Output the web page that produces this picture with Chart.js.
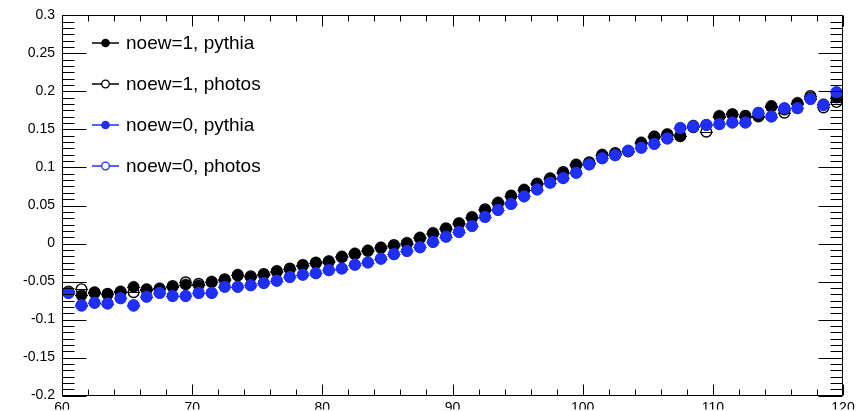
<!DOCTYPE html>
<html><head><meta charset="utf-8">
<script src="https://cdn.jsdelivr.net/npm/chart.js@4.4.1/dist/chart.umd.min.js"></script>
<style>html,body{margin:0;padding:0;background:#fff;}#wrap{width:863px;height:411px;}</style>
</head><body><div id="wrap"><canvas id="c" width="863" height="411"></canvas></div>
<script>
const binCenters = [60.5,61.5,62.5,63.5,64.5,65.5,66.5,67.5,68.5,69.5,
  70.5,71.5,72.5,73.5,74.5,75.5,76.5,77.5,78.5,79.5,
  80.5,81.5,82.5,83.5,84.5,85.5,86.5,87.5,88.5,89.5,
  90.5,91.5,92.5,93.5,94.5,95.5,96.5,97.5,98.5,99.5,
  100.5,101.5,102.5,103.5,104.5,105.5,106.5,107.5,108.5,109.5,
  110.5,111.5,112.5,113.5,114.5,115.5,116.5,117.5,118.5,119.5];

const noew1Pythia = [-0.065,-0.068,-0.064,-0.067,-0.063,-0.057,-0.060,-0.059,-0.057,-0.054,
  -0.055,-0.050,-0.048,-0.041,-0.044,-0.041,-0.036,-0.034,-0.028,-0.026,
  -0.023,-0.017,-0.013,-0.009,-0.005,-0.003,0.001,0.008,0.014,0.019,
  0.027,0.035,0.044,0.054,0.062,0.071,0.078,0.086,0.093,0.104,
  0.106,0.117,0.118,0.122,0.133,0.141,0.144,0.142,0.155,0.156,
  0.168,0.170,0.167,0.168,0.181,0.176,0.185,0.192,0.183,0.192];

const noew1Photos = [-0.063,-0.060,-0.065,-0.066,-0.064,-0.064,-0.061,-0.060,-0.056,-0.051,
  -0.053,-0.051,-0.047,-0.042,-0.043,-0.040,-0.037,-0.033,-0.029,-0.025,
  -0.024,-0.018,-0.014,-0.010,-0.006,-0.002,0.000,0.007,0.013,0.020,
  0.026,0.034,0.045,0.053,0.063,0.070,0.079,0.085,0.094,0.103,
  0.107,0.116,0.119,0.121,0.132,0.140,0.143,0.141,0.153,0.147,
  0.167,0.170,0.168,0.167,0.180,0.172,0.184,0.194,0.179,0.186];

const noew0Pythia = [-0.065,-0.082,-0.078,-0.079,-0.072,-0.082,-0.070,-0.065,-0.069,-0.069,
  -0.065,-0.065,-0.057,-0.057,-0.055,-0.052,-0.049,-0.044,-0.041,-0.039,
  -0.035,-0.033,-0.028,-0.025,-0.020,-0.014,-0.010,-0.005,0.002,0.009,
  0.015,0.023,0.035,0.044,0.052,0.062,0.071,0.080,0.086,0.093,
  0.104,0.112,0.116,0.122,0.126,0.131,0.138,0.152,0.154,0.156,
  0.157,0.159,0.159,0.172,0.167,0.178,0.178,0.190,0.182,0.199];

const noew0Photos = [-0.065,-0.081,-0.078,-0.079,-0.072,-0.081,-0.070,-0.065,-0.069,-0.069,
  -0.065,-0.065,-0.057,-0.057,-0.055,-0.052,-0.049,-0.044,-0.041,-0.039,
  -0.035,-0.033,-0.028,-0.025,-0.020,-0.014,-0.010,-0.005,0.002,0.009,
  0.015,0.023,0.035,0.044,0.052,0.062,0.071,0.080,0.086,0.093,
  0.104,0.112,0.116,0.122,0.126,0.131,0.138,0.152,0.154,0.156,
  0.157,0.159,0.159,0.172,0.167,0.178,0.178,0.190,0.182,0.199];

const seriesLabels = ['noew=1, pythia','noew=1, photos','noew=0, pythia','noew=0, photos'];
const xTickLabels = ['60','70','80','90','100','110','120'];
const yTickLabels = ['-0.2','-0.15','-0.1','-0.05','0','0.05','0.1','0.15','0.2','0.25','0.3'];

const BLACK = '#000000';
const BLUE = '#1f2ff8';
const FONT = '"Liberation Sans", Arial, Helvetica, sans-serif';

function pts(arr){ return binCenters.map((x,i)=>({x:x, y:arr[i]})); }

const datasets = [
  {label: seriesLabels[0], data: pts(noew1Pythia), color: BLACK, filled: true, order: 3},
  {label: seriesLabels[1], data: pts(noew1Photos), color: BLACK, filled: false, order: 2},
  {label: seriesLabels[2], data: pts(noew0Pythia), color: BLUE, filled: true, order: 1},
  {label: seriesLabels[3], data: pts(noew0Photos), color: BLUE, filled: false, order: 0}
].map(d => ({
  label: d.label, data: d.data, order: d.order, filled: d.filled,
  showLine: false,
  borderColor: d.color,
  backgroundColor: d.filled ? d.color : 'rgba(0,0,0,0)',
  pointBackgroundColor: d.filled ? d.color : 'rgba(0,0,0,0)',
  pointBorderColor: d.color,
  pointRadius: d.filled ? 5.6 : 5.3,
  pointBorderWidth: d.filled ? 0.6 : 1.4,
  pointHoverRadius: 6
}));

const errorBars = {
  id: 'errorBars',
  beforeDatasetsDraw(chart){
    const {ctx, scales:{x, y}} = chart;
    ctx.save();
    ctx.lineWidth = 1;
    chart.data.datasets.slice().reverse().forEach(ds => {
      ctx.strokeStyle = ds.borderColor;
      ds.data.forEach(p => {
        const py = Math.round(y.getPixelForValue(p.y)) + 0.5;
        ctx.beginPath();
        ctx.moveTo(x.getPixelForValue(p.x - 0.5), py);
        ctx.lineTo(x.getPixelForValue(p.x + 0.5), py);
        ctx.stroke();
      });
    });
    ctx.restore();
  }
};

const rootFrame = {
  id: 'rootFrame',
  afterDraw(chart){
    const {ctx, chartArea:a, scales:{x, y}} = chart;
    ctx.save();
    ctx.strokeStyle = '#000';
    ctx.lineWidth = 1;
    const L = Math.round(a.left)+0.5, R = Math.round(a.right)-0.5, T = Math.round(a.top)+0.5, B = Math.round(a.bottom)-0.5;
    ctx.beginPath();
    ctx.rect(L, T, R-L, B-T);
    ctx.stroke();
    ctx.beginPath();
    const yMajor = yTickLabels.map(Number);
    for (let k = 0; k < yMajor.length; k++) {
      const v = yMajor[k];
      const py = Math.round(y.getPixelForValue(v)) + 0.5;
      ctx.moveTo(L, py); ctx.lineTo(L+24, py);
      ctx.moveTo(R, py); ctx.lineTo(R-24, py);
      if (k < yMajor.length-1) {
        const step = (yMajor[k+1]-v)/6;
        for (let m = 1; m < 6; m++) {
          const my = Math.round(y.getPixelForValue(v + m*step)) + 0.5;
          ctx.moveTo(L, my); ctx.lineTo(L+12, my);
          ctx.moveTo(R, my); ctx.lineTo(R-12, my);
        }
      }
    }
    const xMajor = xTickLabels.map(Number);
    for (let k = 0; k < xMajor.length; k++) {
      const v = xMajor[k];
      const px = Math.round(x.getPixelForValue(v)) + 0.5;
      ctx.moveTo(px, B); ctx.lineTo(px, B-11);
      ctx.moveTo(px, T); ctx.lineTo(px, T+11);
      if (k < xMajor.length-1) {
        const step = (xMajor[k+1]-v)/5;
        for (let m = 1; m < 5; m++) {
          const mx = Math.round(x.getPixelForValue(v + m*step)) + 0.5;
          ctx.moveTo(mx, B); ctx.lineTo(mx, B-6);
          ctx.moveTo(mx, T); ctx.lineTo(mx, T+6);
        }
      }
    }
    ctx.stroke();

    const rows = [43, 84, 125, 166];
    chart.data.datasets.forEach((ds, i) => {
      const ry = rows[i];
      ctx.strokeStyle = ds.borderColor;
      ctx.lineWidth = 1.5;
      ctx.beginPath(); ctx.moveTo(92, ry); ctx.lineTo(119, ry); ctx.stroke();
      ctx.beginPath(); ctx.arc(105.5, ry, ds.filled ? 4.3 : 3.8, 0, Math.PI*2);
      if (ds.filled) { ctx.fillStyle = ds.borderColor; ctx.fill(); }
      else { ctx.fillStyle = '#fff'; ctx.fill(); ctx.lineWidth = 1.3; ctx.stroke(); }
      ctx.fillStyle = '#000';
      ctx.font = '19px ' + FONT;
      ctx.textBaseline = 'middle';
      ctx.textAlign = 'left';
      ctx.fillText(ds.label, 126, ry + 1);
    });
    ctx.restore();
  }
};

new Chart(document.getElementById('c'), {
  type: 'scatter',
  data: { datasets },
  options: {
    responsive: false,
    devicePixelRatio: 1,
    animation: false,
    layout: { padding: { top: 14, right: 20, left: 0, bottom: 0 } },
    plugins: { legend: { display: false }, tooltip: { enabled: false } },
    scales: {
      x: {
        type: 'linear', min: 60, max: 120,
        afterBuildTicks(s){ s.ticks = xTickLabels.map(v => ({value: Number(v)})); },
        afterFit(s){ s.height = 14; },
        grid: { display: false, drawTicks: false },
        border: { display: false },
        ticks: { autoSkip: false, maxRotation: 0, padding: 4, color: '#000',
          font: { family: FONT, size: 14 },
          callback: (v, i) => xTickLabels[i] }
      },
      y: {
        type: 'linear', min: -0.2, max: 0.3,
        afterBuildTicks(s){ s.ticks = yTickLabels.map(v => ({value: Number(v)})); },
        afterFit(s){ s.width = 62; },
        grid: { display: false, drawTicks: false },
        border: { display: false },
        ticks: { autoSkip: false, padding: 7, color: '#000',
          font: { family: FONT, size: 14 },
          callback: (v, i) => yTickLabels[i] }
      }
    }
  },
  plugins: [errorBars, rootFrame]
});
</script>
</body></html>
